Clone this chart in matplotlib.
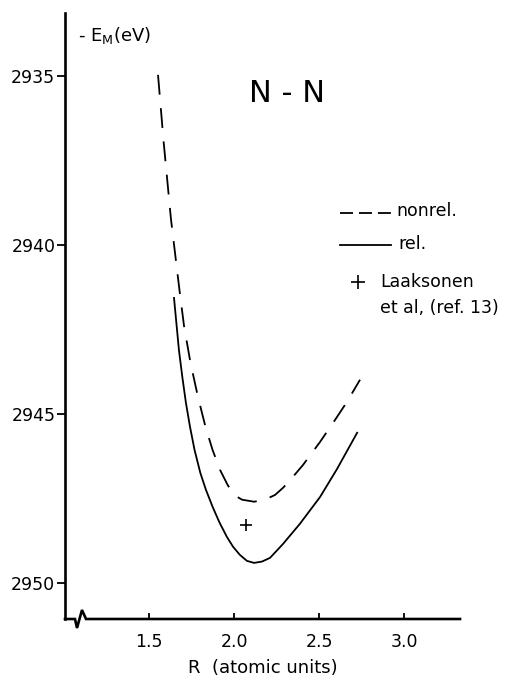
import matplotlib
matplotlib.use("Agg")
import matplotlib.pyplot as plt
from matplotlib.lines import Line2D

# R in atomic units, -E_M in eV
nonrel_r = [1.553, 1.586, 1.629, 1.679, 1.706, 1.744, 1.788, 1.832, 1.874, 1.918,
            1.962, 2.000, 2.047, 2.118, 2.182, 2.241, 2.288, 2.347, 2.406, 2.506,
            2.594, 2.665, 2.741]
nonrel_e = [2934.97, 2936.95, 2939.23, 2941.33, 2942.40, 2943.49, 2944.50, 2945.38,
            2946.07, 2946.66, 2947.10, 2947.40, 2947.54, 2947.60, 2947.54, 2947.40,
            2947.19, 2946.86, 2946.51, 2945.83, 2945.18, 2944.64, 2943.99]

rel_r = [1.647, 1.661, 1.676, 1.696, 1.717, 1.741, 1.768, 1.802, 1.835, 1.874,
         1.915, 1.958, 1.994, 2.034, 2.076, 2.118, 2.165, 2.212, 2.288, 2.388,
         2.506, 2.606, 2.724]
rel_e = [2941.57, 2942.31, 2943.11, 2943.91, 2944.67, 2945.38, 2946.07, 2946.75,
         2947.25, 2947.75, 2948.22, 2948.64, 2948.93, 2949.17, 2949.35, 2949.41,
         2949.37, 2949.26, 2948.85, 2948.25, 2947.46, 2946.63, 2945.56]

laaksonen_r = [2.07]
laaksonen_e = [2948.28]

y_ticks = [2935, 2940, 2945, 2950]
y_tick_labels = ["2935", "2940", "2945", "2950"]
x_ticks = [1.5, 2.0, 2.5, 3.0]
x_tick_labels = ["1.5", "2.0", "2.5", "3.0"]

W, H = 528, 677
fig = plt.figure(figsize=(W / 100, H / 100), dpi=100)
ax_l, ax_r, ax_t, ax_b = 65, 460, 13, 619
ax = fig.add_axes([ax_l / W, 1 - ax_b / H, (ax_r - ax_l) / W, (ax_b - ax_t) / H])

lw = 1.3
ax.plot(nonrel_r, nonrel_e, color="black", linewidth=lw, dashes=(11, 7.5))
ax.plot(rel_r, rel_e, color="black", linewidth=lw)
ax.plot(laaksonen_r, laaksonen_e, marker="+", color="black", markersize=9,
        markeredgewidth=1.2, linestyle="none")

ax.set_xlim(1.006, 3.329)
ax.set_ylim(2951.07, 2933.14)

for side in ["top", "right", "bottom"]:
    ax.spines[side].set_visible(False)
ax.spines["left"].set_linewidth(1.9)


def px_to_ax(px, py):
    return (px - ax_l) / (ax_r - ax_l), (ax_b - py) / (ax_b - ax_t)


# bottom axis with break mark
brk = [px_to_ax(p, q) for p, q in [(65, 619), (75, 619), (77, 628), (82, 610), (86, 619), (460, 619)]]
ax.add_line(Line2D([b[0] for b in brk], [b[1] for b in brk], transform=ax.transAxes,
                   color="black", linewidth=1.9, clip_on=False, solid_joinstyle="miter"))

ax.set_yticks(y_ticks)
ax.set_yticklabels(y_tick_labels)
ax.set_xticks(x_ticks)
ax.set_xticklabels(x_tick_labels)
ax.tick_params(axis="y", direction="out", length=6, width=1.3, labelsize=12.5, pad=1)
ax.tick_params(axis="x", direction="in", length=4.5, width=1.3, labelsize=12.5, pad=10)
ax.set_xlabel("R  (atomic units)", fontsize=13, labelpad=6)

ax.text(*px_to_ax(78, 35), r"- E$_{\mathrm{M}}$(eV)", transform=ax.transAxes,
        fontsize=13, ha="left", va="center")
ax.text(*px_to_ax(287, 94), "N - N", transform=ax.transAxes,
        fontsize=22, ha="center", va="center")

# hand-drawn legend
x0, x1 = px_to_ax(340, 0)[0], px_to_ax(391, 0)[0]
y_dash = px_to_ax(0, 213)[1]
y_sol = px_to_ax(0, 245)[1]
ax.add_line(Line2D([x0, x1], [y_dash, y_dash], transform=ax.transAxes, color="black",
                   linewidth=lw, dashes=(7.2, 3.3), clip_on=False))
ax.add_line(Line2D([x0, x1], [y_sol, y_sol], transform=ax.transAxes, color="black",
                   linewidth=lw, clip_on=False))
ax.text(*px_to_ax(396, 211), "nonrel.", transform=ax.transAxes, fontsize=12.5,
        ha="left", va="center")
ax.text(*px_to_ax(398, 244), "rel.", transform=ax.transAxes, fontsize=12.5,
        ha="left", va="center")
ax.plot(*px_to_ax(358, 282), marker="+", color="black", markersize=10,
        markeredgewidth=1.2, transform=ax.transAxes, clip_on=False)
ax.text(*px_to_ax(380, 282), "Laaksonen", transform=ax.transAxes, fontsize=12.5,
        ha="left", va="center")
ax.text(*px_to_ax(380, 308), "et al, (ref. 13)", transform=ax.transAxes, fontsize=12.5,
        ha="left", va="center", clip_on=False)

fig.savefig("out.png", dpi=100)
